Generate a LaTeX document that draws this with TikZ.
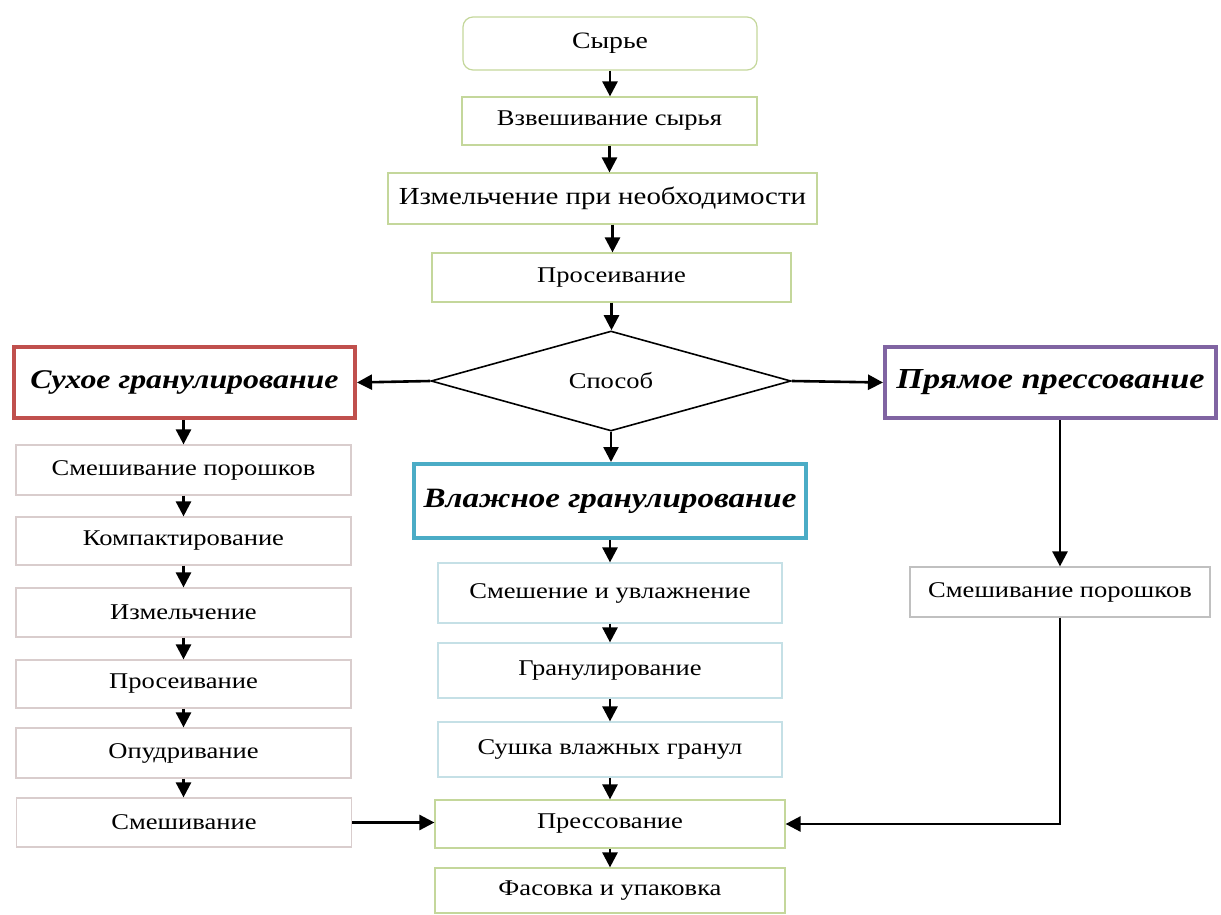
\documentclass[tikz,border=0pt]{standalone}
\usepackage{fontspec}
\setmainfont{Liberation Serif}[FakeStretch=1.18]
\usetikzlibrary{arrows.meta,shapes.geometric}
\definecolor{cgreen}{HTML}{C4D79B}
\definecolor{cpink}{HTML}{D9CDCD}
\definecolor{cblue}{HTML}{C5E0E6}
\definecolor{cgrey}{HTML}{C0C0C0}
\definecolor{cred}{HTML}{C0504D}
\definecolor{cbluedk}{HTML}{4BACC6}
\definecolor{cpurple}{HTML}{8064A2}
\begin{document}
\begin{tikzpicture}[x=1pt,y=-1pt,
  box/.style={draw, line width=1.2pt, inner sep=0pt, text=black,
    font=\fontsize{22.5}{26}\selectfont},
  gbox/.style={box, draw=cgreen},
  pbox/.style={box, draw=cpink},
  bbox/.style={box, draw=cblue},
  ggbox/.style={box, draw=cgrey},
  head/.style={draw, line width=4pt, inner sep=0pt, fill=white,
    font=\fontsize{27}{31}\selectfont\bfseries\itshape},
  arr/.style={draw=black, line width=2.6pt,
    -{Triangle[length=15pt,width=15pt]}},
  dec/.style={draw=black, line width=1.6pt, shape=diamond, aspect=3.6,
    minimum width=360pt, minimum height=100pt, inner sep=0pt,
    font=\fontsize{22.5}{26}\selectfont}
]
\useasboundingbox (0,0) rectangle (1221,915);
% top column
\node[gbox, rounded corners=10pt, minimum width=294pt, minimum height=53pt, font=\fontsize{23.5}{27}\selectfont] (raw) at (610,43.5) {Сырье};
\node[gbox, minimum width=295pt, minimum height=48pt] (weigh) at (609.5,121) {Взвешивание сырья};
\node[gbox, minimum width=429pt, minimum height=51pt, font=\fontsize{24.5}{28}\selectfont] (grind) at (602.5,198.5) {Измельчение при необходимости};
\node[gbox, minimum width=359pt, minimum height=49pt] (sieve) at (611.5,277.5) {Просеивание};
\node[dec] (way) at (611,381) {Способ};
% method headers
\node[head, draw=cred, minimum width=341pt, minimum height=71pt] (dry) at (184.5,382.5) {Сухое гранулирование};
\node[head, draw=cpurple, minimum width=331pt, minimum height=71pt, font=\fontsize{29}{33}\selectfont\bfseries\itshape] (direct) at (1050.5,382.5) {Прямое прессование};
\node[head, draw=cbluedk, minimum width=392pt, minimum height=74pt, font=\fontsize{28}{32}\selectfont\bfseries\itshape] (wet) at (610,501) {Влажное гранулирование};
% left column
\node[pbox, minimum width=335pt, minimum height=50pt] (l1) at (183.5,470) {Смешивание порошков};
\node[pbox, minimum width=335pt, minimum height=48pt] (l2) at (183.5,541) {Компактирование};
\node[pbox, minimum width=335pt, minimum height=49pt] (l3) at (183.5,612.5) {Измельчение};
\node[pbox, minimum width=335pt, minimum height=48pt] (l4) at (183.5,684) {Просеивание};
\node[pbox, minimum width=335pt, minimum height=50pt] (l5) at (183.5,753) {Опудривание};
\node[pbox, minimum width=335pt, minimum height=49pt] (l6) at (184,822.5) {Смешивание};
% middle column
\node[bbox, minimum width=344pt, minimum height=60pt] (m1) at (610,593) {Смешение и увлажнение};
\node[bbox, minimum width=344pt, minimum height=55pt] (m2) at (610,670.5) {Гранулирование};
\node[bbox, minimum width=344pt, minimum height=55pt] (m3) at (610,749.5) {Сушка влажных гранул};
\node[gbox, minimum width=350pt, minimum height=48pt] (press) at (610,824) {Прессование};
\node[gbox, minimum width=350pt, minimum height=45pt] (pack) at (610,890.5) {Фасовка и упаковка};
% right column
\node[ggbox, minimum width=300pt, minimum height=50pt] (r1) at (1060,592) {Смешивание порошков};
% connectors
\draw[arr] (raw.south) -- (raw.south |- weigh.north);
\draw[arr] (weigh.south) -- (weigh.south |- grind.north);
\draw[arr] ([xshift=10pt]grind.south) -- ([xshift=10pt]grind.south |- sieve.north);
\draw[arr] (sieve.south) -- (sieve.south |- way.north);
\draw[arr] (way.west) -- (dry.east);
\draw[arr] (way.east) -- (direct.west);
\draw[arr] (way.south) -- (way.south |- wet.north);
\draw[arr] (dry.south -| l1.north) -- (l1.north);
\draw[arr] (l1.south) -- (l2.north);
\draw[arr] (l2.south) -- (l3.north);
\draw[arr] (l3.south) -- (l4.north);
\draw[arr] (l4.south) -- (l5.north);
\draw[arr] (l5.south) -- (l5.south |- l6.north);
\draw[arr] (wet.south) -- (m1.north);
\draw[arr] (m1.south) -- (m2.north);
\draw[arr] (m2.south) -- (m3.north);
\draw[arr] (m3.south) -- (press.north);
\draw[arr] (press.south) -- (pack.north);
\draw[arr] (r1.north |- direct.south) -- (r1.north);
\draw[arr] (r1.south) |- (press.east);
\draw[arr] (l6.east) -- (l6.east -| press.west);
\end{tikzpicture}
\end{document}
